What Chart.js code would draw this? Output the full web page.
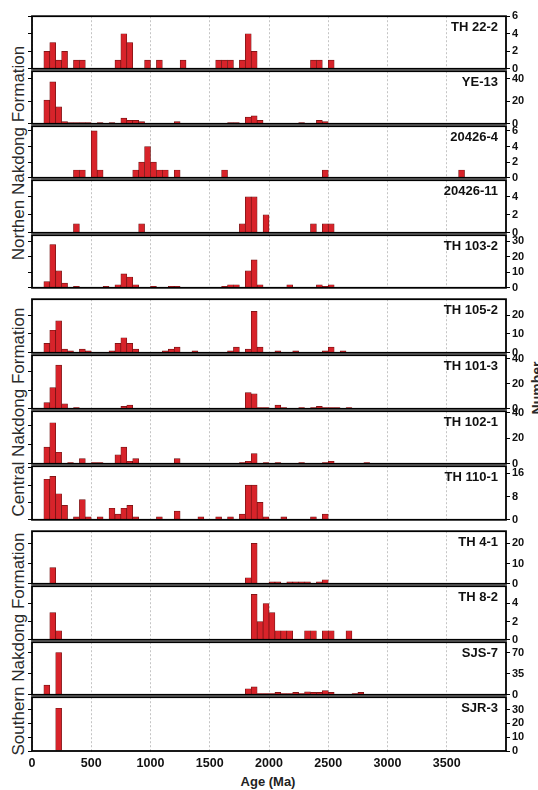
<!DOCTYPE html>
<html>
<head>
<meta charset="utf-8">
<script src="https://cdn.jsdelivr.net/npm/chart.js@4.4.0/dist/chart.umd.min.js"></script>
<style>
  body { margin: 0; width: 538px; height: 790px; overflow: hidden; position: relative; background: #fff;
         font-family: "Liberation Sans", Arial, sans-serif; }
  canvas { position: absolute; left: 0; }
  .rot { position: absolute; white-space: nowrap; transform: translate(-50%, -50%) rotate(-90deg); color: #2a2a2a; }
  .grp { font-size: 17px; }
  .num { font-size: 14px; font-weight: bold; }
  .age { position: absolute; transform: translate(-50%, -50%); font-size: 13px; font-weight: bold; color: #222; }
</style>
</head>
<body>
<div class="rot grp" style="left:19px;top:153px">Northen Nakdong Formation</div>
<div class="rot grp" style="left:19px;top:412px">Central Nakdong Formation</div>
<div class="rot grp" style="left:19px;top:644px">Southern Nakdong Formation</div>
<div class="rot num" style="left:537px;top:388px">Number</div>
<div class="age" style="left:268px;top:781px">Age (Ma)</div>
<script>
// [bin start (Ma), number of grains], 50 Ma bins
const th22_2 = [[100,2],[150,3],[200,1],[250,2],[350,1],[400,1],[700,1],[750,4],[800,3],[950,1],[1050,1],[1250,1],
  [1550,1],[1600,1],[1650,1],[1750,1],[1800,4],[1850,2],[2350,1],[2400,1],[2500,1]]
const ye13 = [[100,21],[150,37],[200,15],[250,2],[300,1],[350,1],[400,1],[450,1],[550,1],[650,1],[750,5],[800,3],
  [850,3],[900,2],[1200,2],[1650,1],[1700,1],[1800,6],[1850,7],[1900,3],[2250,1],[2400,3],[2450,2]]
const s20426_4 = [[350,1],[400,1],[500,6],[550,1],[850,1],[900,2],[950,4],[1000,2],[1050,1],[1100,1],[1200,1],
  [1600,1],[2450,1],[3600,1]]
const s20426_11 = [[350,1],[900,1],[1750,1],[1800,4],[1850,4],[1950,2],[2350,1],[2450,1],[2500,1]]
const th103_2 = [[100,4],[150,28],[200,11],[250,3],[350,1],[600,1],[700,2],[750,9],[800,7],[850,2],[1000,1],
  [1150,1],[1200,1],[1600,1],[1650,2],[1700,2],[1800,11],[1850,18],[1900,2],[2150,2],[2400,2],[2450,1],[2500,2]]

const th105_2 = [[100,5],[150,12],[200,17],[250,2],[300,1],[400,2],[450,1],[650,1],[700,5],[750,8],[800,5],[850,2],
  [1100,1],[1150,2],[1200,3],[1350,1],[1650,1],[1700,3],[1800,2],[1850,22],[1900,3],[2050,1],[2200,1],[2450,1],
  [2500,3],[2600,1]]
const th101_3 = [[100,5],[150,17],[200,35],[250,4],[350,1],[750,2],[800,3],[1800,13],[1850,12],[1900,1],[1950,1],
  [2050,3],[2100,1],[2250,1],[2350,1],[2400,2],[2450,1],[2500,1],[2550,1],[2650,1]]
const th102_1 = [[100,13],[150,32],[200,9],[300,1],[400,4],[500,1],[550,1],[700,7],[750,13],[800,2],[850,4],[1200,4],
  [1750,1],[1800,2],[1850,8],[1950,1],[2050,1],[2250,1],[2450,1],[2500,2],[2800,1]]
const th110_1 = [[100,14],[150,15],[200,9],[250,5],[350,1],[400,7],[450,1],[550,1],[650,4],[700,2],[750,4],[800,5],
  [850,1],[1050,1],[1200,3],[1400,1],[1550,1],[1650,1],[1750,2],[1800,12],[1850,12],[1900,6],[1950,1],[2100,1],
  [2350,1],[2450,2]]

const th4_1 = [[150,8],[1800,3],[1850,20],[2000,1],[2050,1],[2150,1],[2200,1],[2250,1],[2300,1],[2400,1],[2450,2]]
const th8_2 = [[150,3],[200,1],[1850,5],[1900,2],[1950,4],[2000,3],[2050,1],[2100,1],[2150,1],[2300,1],[2350,1],
  [2450,1],[2500,1],[2650,1]]
const sjs7 = [[100,16],[200,70],[1800,10],[1850,13],[1900,2],[1950,2],[2000,2],[2050,4],[2100,2],[2150,2],[2200,4],
  [2250,2],[2300,5],[2350,4],[2400,4],[2450,7],[2500,4],[2700,2],[2750,4]]
const sjr3 = [[200,31]]

const ageTicks = [0, 500, 1000, 1500, 2000, 2500, 3000, 3500]

// axis settings per sample: top of count axis, labelled step, minor tick step
const groups = [
  { top: 15, bottom: 289, panels: [
    { name: 'TH 22-2', data: th22_2, max: 6, step: 2, minor: 2 },
    { name: 'YE-13', data: ye13, max: 46.5, step: 20, minor: 10 },
    { name: '20426-4', data: s20426_4, max: 6.6, step: 2, minor: 2 },
    { name: '20426-11', data: s20426_11, max: 5.85, step: 2, minor: 2 },
    { name: 'TH 103-2', data: th103_2, max: 34, step: 10, minor: 5 },
  ]},
  { top: 298, bottom: 521, panels: [
    { name: 'TH 105-2', data: th105_2, max: 28.5, step: 10, minor: 5 },
    { name: 'TH 101-3', data: th101_3, max: 43, step: 20, minor: 5 },
    { name: 'TH 102-1', data: th102_1, max: 41, step: 20, minor: 5 },
    { name: 'TH 110-1', data: th110_1, max: 18.5, step: 8, minor: 2 },
  ]},
  { top: 530, bottom: 751, panels: [
    { name: 'TH 4-1', data: th4_1, max: 26, step: 10, minor: 5 },
    { name: 'TH 8-2', data: th8_2, max: 5.9, step: 2, minor: 2 },
    { name: 'SJS-7', data: sjs7, max: 87, step: 35, minor: 17.5 },
    { name: 'SJR-3', data: sjr3, max: 39, step: 10, minor: 5 },
  ]},
]

const BIN = 50
const PAD = 9
const XH = 24
const RED = '#d8232a'
const EDGE = '#6e1212'

// histogram bins, empty ones are 0 so the bar width is one bin everywhere
const toBins = (pairs) => {
  const out = []
  for (let a = 0; a < 4000; a += BIN) {
    const hit = pairs.find(p => p[0] === a)
    out.push({ x: a + BIN / 2, y: hit ? hit[1] : 0 })
  }
  return out
}

const frame = {
  id: 'frame',
  afterDraw(chart, args, opts) {
    const { ctx, chartArea: a } = chart
    ctx.save()
    ctx.strokeStyle = '#000'
    ctx.lineWidth = 1.8
    ctx.strokeRect(a.left, a.top, a.right - a.left, a.bottom - a.top)
    ctx.fillStyle = '#111'
    ctx.font = 'bold 13px "Liberation Sans", Arial, sans-serif'
    ctx.textAlign = 'right'
    ctx.textBaseline = 'top'
    ctx.fillText(opts.name, a.right - 8, a.top + 5)
    ctx.restore()
  }
}

const lastGroup = groups.length - 1

groups.forEach((g, gi) => {
  const h = (g.bottom - g.top) / g.panels.length
  g.panels.forEach((p, pi) => {
    const last = gi === lastGroup && pi === g.panels.length - 1
    const pTop = Math.round(g.top + pi * h)
    const pBot = Math.round(g.top + (pi + 1) * h)
    const cv = document.createElement('canvas')
    const H = pBot - pTop + PAD + (last ? XH : PAD)
    cv.width = 538
    cv.height = H
    cv.style.top = (pTop - PAD) + 'px'
    cv.style.width = '538px'
    cv.style.height = H + 'px'
    document.body.appendChild(cv)

    new Chart(cv, {
      type: 'bar',
      data: {
        datasets: [{
          data: toBins(p.data),
          backgroundColor: RED,
          borderColor: EDGE,
          borderWidth: 0.7,
          barPercentage: 1,
          categoryPercentage: 1,
          grouped: false,
        }]
      },
      options: {
        responsive: false,
        animation: false,
        events: [],
        layout: { padding: { left: 26, right: 0, top: PAD, bottom: last ? 0 : PAD } },
        plugins: {
          legend: { display: false },
          tooltip: { enabled: false },
          frame: { name: p.name },
        },
        scales: {
          x: {
            type: 'linear', min: 0, max: 4000, offset: false,
            afterBuildTicks: s => { s.ticks = ageTicks.map(v => ({ value: v })) },
            ticks: { display: last, color: '#111', font: { size: 12.5, weight: 'bold' }, padding: 5, maxRotation: 0,
              callback: v => String(v) },
            grid: { color: '#b5b5b5', lineWidth: 0.8, drawTicks: false, offset: false },
            border: { display: false, dash: [2, 2] },
            afterFit: s => { s.height = last ? XH : 0 },
          },
          y: {
            position: 'right', min: 0, max: p.max,
            ticks: { stepSize: p.step, includeBounds: false, color: '#111', font: { size: 11, weight: 'bold' }, padding: 2 },
            grid: { drawOnChartArea: false, color: '#000', tickLength: 4 },
            border: { display: false },
            afterFit: s => { s.width = 32 },
          },
          yL: {
            position: 'left', min: 0, max: p.max,
            ticks: { stepSize: p.minor, includeBounds: false, callback: () => '' },
            grid: { drawOnChartArea: false, color: '#000', tickLength: 4 },
            border: { display: false },
            afterFit: s => { s.width = 6 },
          },
        }
      },
      plugins: [frame]
    })
  })
})
</script>
</body>
</html>
